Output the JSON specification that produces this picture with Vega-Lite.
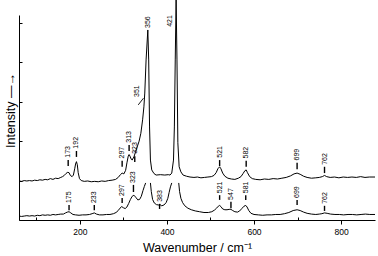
{
"$schema":"https://vega.github.io/schema/vega-lite/v6.json",
"width":356,"height":205,
"autosize":{"type":"none"},
"padding":{"left":19,"top":15,"right":3,"bottom":36},
"background":"white",
"config":{"view":{"stroke":null},"font":"Liberation Sans"},
"datasets":{
"spectra":[
{"wn":60,"I":0.99,"s":"u"},{"wn":66,"I":0.98,"s":"u"},{"wn":72,"I":1.0,"s":"u"},{"wn":78,"I":0.99,"s":"u"},{"wn":84,"I":1.0,"s":"u"},{"wn":90,"I":0.99,"s":"u"},{"wn":96,"I":1.01,"s":"u"},{"wn":102,"I":1.0,"s":"u"},{"wn":108,"I":1.02,"s":"u"},{"wn":114,"I":1.01,"s":"u"},{"wn":120,"I":1.03,"s":"u"},{"wn":126,"I":1.02,"s":"u"},{"wn":132,"I":1.05,"s":"u"},{"wn":138,"I":1.03,"s":"u"},{"wn":144,"I":1.06,"s":"u"},{"wn":150,"I":1.05,"s":"u"},{"wn":156,"I":1.08,"s":"u"},{"wn":160,"I":1.1,"s":"u"},{"wn":164,"I":1.13,"s":"u"},{"wn":168,"I":1.18,"s":"u"},{"wn":172,"I":1.21,"s":"u"},{"wn":175,"I":1.2,"s":"u"},{"wn":178,"I":1.13,"s":"u"},{"wn":182,"I":1.1,"s":"u"},{"wn":185,"I":1.14,"s":"u"},{"wn":188,"I":1.3,"s":"u"},{"wn":190,"I":1.42,"s":"u"},{"wn":192,"I":1.48,"s":"u"},{"wn":194,"I":1.4,"s":"u"},{"wn":196,"I":1.2,"s":"u"},{"wn":199,"I":1.05,"s":"u"},{"wn":203,"I":1.0,"s":"u"},{"wn":210,"I":0.98,"s":"u"},{"wn":218,"I":0.99,"s":"u"},{"wn":226,"I":0.97,"s":"u"},{"wn":234,"I":0.98,"s":"u"},{"wn":242,"I":0.97,"s":"u"},{"wn":250,"I":0.99,"s":"u"},{"wn":258,"I":0.98,"s":"u"},{"wn":266,"I":1.0,"s":"u"},{"wn":274,"I":1.01,"s":"u"},{"wn":282,"I":1.03,"s":"u"},{"wn":288,"I":1.08,"s":"u"},{"wn":293,"I":1.15,"s":"u"},{"wn":297,"I":1.19,"s":"u"},{"wn":301,"I":1.17,"s":"u"},{"wn":305,"I":1.26,"s":"u"},{"wn":308,"I":1.45,"s":"u"},{"wn":311,"I":1.62,"s":"u"},{"wn":313,"I":1.66,"s":"u"},{"wn":315,"I":1.62,"s":"u"},{"wn":318,"I":1.54,"s":"u"},{"wn":320,"I":1.52,"s":"u"},{"wn":324,"I":1.6,"s":"u"},{"wn":330,"I":1.8,"s":"u"},{"wn":336,"I":2.0,"s":"u"},{"wn":340,"I":2.2,"s":"u"},{"wn":344,"I":2.54,"s":"u"},{"wn":347,"I":2.87,"s":"u"},{"wn":349,"I":3.22,"s":"u"},{"wn":352,"I":4.06,"s":"u"},{"wn":356,"I":4.82,"s":"u"},{"wn":358,"I":4.06,"s":"u"},{"wn":360,"I":2.36,"s":"u"},{"wn":362,"I":1.52,"s":"u"},{"wn":365,"I":1.27,"s":"u"},{"wn":370,"I":1.18,"s":"u"},{"wn":375,"I":1.14,"s":"u"},{"wn":385,"I":1.15,"s":"u"},{"wn":395,"I":1.14,"s":"u"},{"wn":403,"I":1.15,"s":"u"},{"wn":407,"I":1.14,"s":"u"},{"wn":411,"I":1.19,"s":"u"},{"wn":415,"I":1.52,"s":"u"},{"wn":417,"I":2.36,"s":"u"},{"wn":419,"I":4.06,"s":"u"},{"wn":421,"I":5.6,"s":"u"},{"wn":423,"I":4.06,"s":"u"},{"wn":425,"I":1.96,"s":"u"},{"wn":428,"I":1.35,"s":"u"},{"wn":432,"I":1.22,"s":"u"},{"wn":437,"I":1.14,"s":"u"},{"wn":445,"I":1.11,"s":"u"},{"wn":453,"I":1.09,"s":"u"},{"wn":462,"I":1.08,"s":"u"},{"wn":470,"I":1.09,"s":"u"},{"wn":478,"I":1.07,"s":"u"},{"wn":486,"I":1.08,"s":"u"},{"wn":494,"I":1.09,"s":"u"},{"wn":502,"I":1.1,"s":"u"},{"wn":508,"I":1.13,"s":"u"},{"wn":513,"I":1.2,"s":"u"},{"wn":517,"I":1.3,"s":"u"},{"wn":521,"I":1.35,"s":"u"},{"wn":524,"I":1.3,"s":"u"},{"wn":528,"I":1.19,"s":"u"},{"wn":533,"I":1.11,"s":"u"},{"wn":540,"I":1.06,"s":"u"},{"wn":548,"I":1.04,"s":"u"},{"wn":556,"I":1.03,"s":"u"},{"wn":564,"I":1.06,"s":"u"},{"wn":570,"I":1.1,"s":"u"},{"wn":575,"I":1.18,"s":"u"},{"wn":579,"I":1.25,"s":"u"},{"wn":582,"I":1.27,"s":"u"},{"wn":585,"I":1.2,"s":"u"},{"wn":590,"I":1.1,"s":"u"},{"wn":596,"I":1.05,"s":"u"},{"wn":604,"I":1.03,"s":"u"},{"wn":614,"I":1.02,"s":"u"},{"wn":624,"I":1.04,"s":"u"},{"wn":634,"I":1.03,"s":"u"},{"wn":644,"I":1.05,"s":"u"},{"wn":654,"I":1.04,"s":"u"},{"wn":664,"I":1.06,"s":"u"},{"wn":674,"I":1.08,"s":"u"},{"wn":684,"I":1.12,"s":"u"},{"wn":692,"I":1.17,"s":"u"},{"wn":699,"I":1.19,"s":"u"},{"wn":706,"I":1.16,"s":"u"},{"wn":714,"I":1.11,"s":"u"},{"wn":722,"I":1.08,"s":"u"},{"wn":732,"I":1.06,"s":"u"},{"wn":742,"I":1.07,"s":"u"},{"wn":750,"I":1.08,"s":"u"},{"wn":757,"I":1.1,"s":"u"},{"wn":762,"I":1.13,"s":"u"},{"wn":767,"I":1.1,"s":"u"},{"wn":775,"I":1.08,"s":"u"},{"wn":785,"I":1.09,"s":"u"},{"wn":795,"I":1.07,"s":"u"},{"wn":805,"I":1.09,"s":"u"},{"wn":815,"I":1.08,"s":"u"},{"wn":825,"I":1.09,"s":"u"},{"wn":835,"I":1.08,"s":"u"},{"wn":845,"I":1.1,"s":"u"},{"wn":855,"I":1.08,"s":"u"},{"wn":865,"I":1.09,"s":"u"},{"wn":878,"I":1.09,"s":"u"},
{"wn":60,"I":0.1,"s":"a"},{"wn":66,"I":0.09,"s":"a"},{"wn":72,"I":0.1,"s":"a"},{"wn":78,"I":0.11,"s":"a"},{"wn":84,"I":0.1,"s":"a"},{"wn":90,"I":0.11,"s":"a"},{"wn":96,"I":0.1,"s":"a"},{"wn":102,"I":0.12,"s":"a"},{"wn":108,"I":0.11,"s":"a"},{"wn":114,"I":0.13,"s":"a"},{"wn":120,"I":0.12,"s":"a"},{"wn":126,"I":0.13,"s":"a"},{"wn":132,"I":0.12,"s":"a"},{"wn":138,"I":0.14,"s":"a"},{"wn":144,"I":0.13,"s":"a"},{"wn":150,"I":0.14,"s":"a"},{"wn":156,"I":0.15,"s":"a"},{"wn":162,"I":0.15,"s":"a"},{"wn":167,"I":0.18,"s":"a"},{"wn":171,"I":0.2,"s":"a"},{"wn":175,"I":0.21,"s":"a"},{"wn":179,"I":0.18,"s":"a"},{"wn":184,"I":0.14,"s":"a"},{"wn":190,"I":0.13,"s":"a"},{"wn":198,"I":0.12,"s":"a"},{"wn":206,"I":0.13,"s":"a"},{"wn":214,"I":0.13,"s":"a"},{"wn":222,"I":0.14,"s":"a"},{"wn":228,"I":0.16,"s":"a"},{"wn":233,"I":0.18,"s":"a"},{"wn":238,"I":0.15,"s":"a"},{"wn":245,"I":0.13,"s":"a"},{"wn":253,"I":0.13,"s":"a"},{"wn":261,"I":0.14,"s":"a"},{"wn":269,"I":0.14,"s":"a"},{"wn":277,"I":0.16,"s":"a"},{"wn":283,"I":0.19,"s":"a"},{"wn":288,"I":0.24,"s":"a"},{"wn":292,"I":0.3,"s":"a"},{"wn":296,"I":0.34,"s":"a"},{"wn":300,"I":0.31,"s":"a"},{"wn":304,"I":0.29,"s":"a"},{"wn":308,"I":0.33,"s":"a"},{"wn":312,"I":0.42,"s":"a"},{"wn":316,"I":0.52,"s":"a"},{"wn":320,"I":0.6,"s":"a"},{"wn":324,"I":0.63,"s":"a"},{"wn":328,"I":0.58,"s":"a"},{"wn":333,"I":0.51,"s":"a"},{"wn":337,"I":0.52,"s":"a"},{"wn":341,"I":0.6,"s":"a"},{"wn":345,"I":0.75,"s":"a"},{"wn":348,"I":0.85,"s":"a"},{"wn":351,"I":0.94,"s":"a"},
{"wn":362,"I":0.94,"s":"b"},{"wn":364,"I":0.72,"s":"b"},{"wn":367,"I":0.52,"s":"b"},{"wn":371,"I":0.43,"s":"b"},{"wn":376,"I":0.39,"s":"b"},{"wn":381,"I":0.38,"s":"b"},{"wn":384,"I":0.39,"s":"b"},{"wn":388,"I":0.36,"s":"b"},{"wn":393,"I":0.38,"s":"b"},{"wn":398,"I":0.44,"s":"b"},{"wn":402,"I":0.55,"s":"b"},{"wn":405,"I":0.7,"s":"b"},{"wn":408,"I":0.84,"s":"b"},{"wn":411,"I":0.94,"s":"b"},
{"wn":427,"I":0.94,"s":"c"},{"wn":429,"I":0.72,"s":"c"},{"wn":432,"I":0.55,"s":"c"},{"wn":436,"I":0.44,"s":"c"},{"wn":441,"I":0.36,"s":"c"},{"wn":448,"I":0.3,"s":"c"},{"wn":456,"I":0.26,"s":"c"},{"wn":465,"I":0.23,"s":"c"},{"wn":475,"I":0.21,"s":"c"},{"wn":485,"I":0.19,"s":"c"},{"wn":495,"I":0.19,"s":"c"},{"wn":503,"I":0.21,"s":"c"},{"wn":509,"I":0.25,"s":"c"},{"wn":514,"I":0.3,"s":"c"},{"wn":518,"I":0.35,"s":"c"},{"wn":521,"I":0.37,"s":"c"},{"wn":524,"I":0.34,"s":"c"},{"wn":528,"I":0.28,"s":"c"},{"wn":533,"I":0.26,"s":"c"},{"wn":538,"I":0.26,"s":"c"},{"wn":543,"I":0.27,"s":"c"},{"wn":547,"I":0.27,"s":"c"},{"wn":551,"I":0.24,"s":"c"},{"wn":556,"I":0.21,"s":"c"},{"wn":562,"I":0.2,"s":"c"},{"wn":567,"I":0.23,"s":"c"},{"wn":572,"I":0.29,"s":"c"},{"wn":577,"I":0.35,"s":"c"},{"wn":581,"I":0.37,"s":"c"},{"wn":584,"I":0.33,"s":"c"},{"wn":588,"I":0.24,"s":"c"},{"wn":593,"I":0.17,"s":"c"},{"wn":600,"I":0.14,"s":"c"},{"wn":610,"I":0.13,"s":"c"},{"wn":620,"I":0.12,"s":"c"},{"wn":630,"I":0.13,"s":"c"},{"wn":640,"I":0.13,"s":"c"},{"wn":650,"I":0.14,"s":"c"},{"wn":660,"I":0.14,"s":"c"},{"wn":670,"I":0.16,"s":"c"},{"wn":680,"I":0.19,"s":"c"},{"wn":690,"I":0.24,"s":"c"},{"wn":699,"I":0.26,"s":"c"},{"wn":706,"I":0.24,"s":"c"},{"wn":714,"I":0.2,"s":"c"},{"wn":722,"I":0.17,"s":"c"},{"wn":732,"I":0.15,"s":"c"},{"wn":742,"I":0.14,"s":"c"},{"wn":750,"I":0.15,"s":"c"},{"wn":756,"I":0.16,"s":"c"},{"wn":762,"I":0.18,"s":"c"},{"wn":768,"I":0.17,"s":"c"},{"wn":776,"I":0.15,"s":"c"},{"wn":786,"I":0.14,"s":"c"},{"wn":796,"I":0.14,"s":"c"},{"wn":806,"I":0.13,"s":"c"},{"wn":816,"I":0.14,"s":"c"},{"wn":826,"I":0.14,"s":"c"},{"wn":836,"I":0.13,"s":"c"},{"wn":846,"I":0.14,"s":"c"},{"wn":856,"I":0.15,"s":"c"},{"wn":866,"I":0.14,"s":"c"},{"wn":878,"I":0.14,"s":"c"}
],
"labels":[
{"wn":173,"label":"173","lo":1.37,"hi":1.52,"ty":1.58},
{"wn":192,"label":"192","lo":1.6,"hi":1.75,"ty":1.81},
{"wn":297,"label":"297","lo":1.35,"hi":1.5,"ty":1.56},
{"wn":313,"label":"313","lo":1.75,"hi":1.9,"ty":1.96},
{"wn":326,"label":"323","lo":1.47,"hi":1.62,"ty":1.68},
{"wn":521,"label":"521","lo":1.37,"hi":1.52,"ty":1.58},
{"wn":582,"label":"582","lo":1.35,"hi":1.5,"ty":1.56},
{"wn":699,"label":"699","lo":1.29,"hi":1.45,"ty":1.51},
{"wn":762,"label":"762","lo":1.19,"hi":1.35,"ty":1.4},
{"wn":175,"label":"175","lo":0.25,"hi":0.38,"ty":0.43},
{"wn":233,"label":"233","lo":0.25,"hi":0.38,"ty":0.43},
{"wn":297,"label":"297","lo":0.43,"hi":0.56,"ty":0.61},
{"wn":323,"label":"323","lo":0.71,"hi":0.89,"ty":0.94},
{"wn":383,"label":"383","lo":0.28,"hi":0.41,"ty":0.46},
{"wn":521,"label":"521","lo":0.51,"hi":0.63,"ty":0.68},
{"wn":547,"label":"547","lo":0.3,"hi":0.46,"ty":0.51},
{"wn":581,"label":"581","lo":0.51,"hi":0.63,"ty":0.68},
{"wn":699,"label":"699","lo":0.38,"hi":0.51,"ty":0.56},
{"wn":762,"label":"762","lo":0.23,"hi":0.36,"ty":0.41},
{"wn":331,"label":"351","lo":null,"hi":null,"ty":3.12},
{"wn":356,"label":"356","lo":null,"hi":null,"ty":4.87},
{"wn":408,"label":"421","lo":null,"hi":null,"ty":4.9}
],
"pointer":[{"x1":334,"y1":2.92,"x2":346,"y2":3.09}]
},
"layer":[
{"data":{"name":"spectra"},
 "mark":{"type":"line","color":"black","strokeWidth":1.0},
 "encoding":{
  "x":{"field":"wn","type":"quantitative","scale":{"domain":[60,878],"nice":false,"zero":false},
   "axis":{"values":[200,400,600,800],"title":"Wavenumber / cm⁻¹","titleFontSize":12.5,"titleFontWeight":"normal","titleColor":"black","titlePadding":6,"labelFontSize":8.5,"labelColor":"black","tickSize":4,"tickColor":"black","domainColor":"black","labelPadding":3,"grid":false}},
  "y":{"field":"I","type":"quantitative","scale":{"domain":[0,5.2],"nice":false,"zero":false},
   "axis":{"values":[0,1,2,3,4,5],"labels":false,"tickSize":-3,"tickColor":"black","domainColor":"black","grid":false,"title":"Intensity —→","titleFontSize":12.5,"titleFontWeight":"normal","titleColor":"black","titleX":-9,"titleY":95,"titleBaseline":"middle","titleAnchor":"middle"}},
  "detail":{"field":"s","type":"nominal"}
 }},
{"data":{"name":"labels"},
 "transform":[{"filter":"datum.lo != null"}],
 "mark":{"type":"rule","color":"black","strokeWidth":1.4},
 "encoding":{
  "x":{"field":"wn","type":"quantitative","axis":{"orient":"top","offset":-205,"values":[100,300,500,700],"labels":false,"domain":false,"title":null,"tickSize":3,"tickColor":"black","grid":false}},
  "y":{"field":"lo","type":"quantitative"},
  "y2":{"field":"hi"}
 }},
{"data":{"name":"labels"},
 "mark":{"type":"text","angle":270,"align":"left","baseline":"middle","fontSize":7,"color":"black"},
 "encoding":{
  "x":{"field":"wn","type":"quantitative","axis":null},
  "y":{"field":"ty","type":"quantitative"},
  "text":{"field":"label"}
 }},
{"data":{"name":"pointer"},
 "mark":{"type":"rule","color":"black","strokeWidth":0.9},
 "encoding":{
  "x":{"field":"x1","type":"quantitative","axis":null},
  "x2":{"field":"x2"},
  "y":{"field":"y1","type":"quantitative"},
  "y2":{"field":"y2"}
 }}
],
"resolve":{"axis":{"x":"independent"}}
}
